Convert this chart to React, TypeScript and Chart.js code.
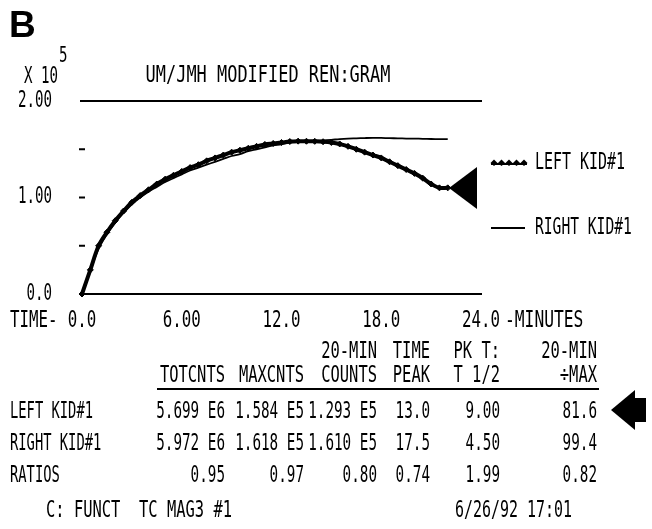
import React, { useEffect, useRef } from "react";
import { Chart, registerables } from "chart.js";

Chart.register(...registerables);

// ---- Data ----
const timeMinutes = [0, 0.5, 1, 1.5, 2, 2.5, 3, 3.5, 4, 4.5, 5, 5.5, 6, 6.5, 7, 7.5, 8, 8.5, 9, 9.5, 10, 10.5, 11, 11.5, 12, 12.5, 13, 13.5, 14, 14.5, 15, 15.5, 16, 16.5, 17, 17.5, 18, 18.5, 19, 19.5, 20, 20.5, 21, 21.5, 22];
const leftKid = [0, 0.25, 0.5, 0.64, 0.76, 0.86, 0.95, 1.02, 1.08, 1.14, 1.19, 1.23, 1.27, 1.31, 1.34, 1.38, 1.41, 1.44, 1.47, 1.49, 1.51, 1.53, 1.55, 1.56, 1.57, 1.58, 1.584, 1.583, 1.582, 1.578, 1.57, 1.555, 1.53, 1.5, 1.47, 1.44, 1.41, 1.37, 1.33, 1.29, 1.25, 1.2, 1.14, 1.1, 1.1];
const rightKid = [0, 0.24, 0.47, 0.62, 0.74, 0.84, 0.93, 1.0, 1.06, 1.11, 1.16, 1.2, 1.24, 1.28, 1.31, 1.34, 1.37, 1.4, 1.43, 1.45, 1.48, 1.5, 1.52, 1.54, 1.55, 1.57, 1.58, 1.585, 1.588, 1.592, 1.598, 1.605, 1.61, 1.613, 1.616, 1.618, 1.617, 1.615, 1.613, 1.611, 1.61, 1.608, 1.606, 1.605, 1.604];

const xTickValues = [0, 6, 12, 18, 24];
const xTickLabels = ["0.0", "6.00", "12.0", "18.0", "24.0"];
const yLabelValues = [0, 1, 2];
const yLabelTexts = ["0.0", "1.00", "2.00"];
const yDashValues = [0.5, 1, 1.5];

const seriesNames = ["LEFT KID#1", "RIGHT KID#1"];
const headerRow1 = ["", "", "20-MIN", "TIME", "PK T:", "20-MIN"];
const headerRow2 = ["TOTCNTS", "MAXCNTS", "COUNTS", "PEAK", "T 1/2", "÷MAX"];
const rowLabels = ["LEFT KID#1", "RIGHT KID#1", "RATIOS"];
const leftRow = ["5.699 E6", "1.584 E5", "1.293 E5", "13.0", "9.00", "81.6"];
const rightRow = ["5.972 E6", "1.618 E5", "1.610 E5", "17.5", "4.50", "99.4"];
const ratioRow = ["0.95", "0.97", "0.80", "0.74", "1.99", "0.82"];

const FONT = '"DejaVu Sans Mono", monospace';

function txt(
  ctx: CanvasRenderingContext2D,
  s: string,
  x: number,
  y: number,
  align: CanvasTextAlign = "left",
  cw = 8.3,
  size = 23
) {
  ctx.save();
  ctx.font = `${size}px ${FONT}`;
  const adv = ctx.measureText("M").width;
  const sx = cw / adv;
  ctx.translate(x, y);
  ctx.scale(sx, 1);
  ctx.textAlign = align;
  ctx.textBaseline = "middle";
  ctx.fillStyle = "#000";
  ctx.fillText(s, 0, 0);
  ctx.restore();
}

function arrow(ctx: CanvasRenderingContext2D, tipX: number, tipY: number, len: number, half: number) {
  ctx.save();
  ctx.fillStyle = "#000";
  ctx.beginPath();
  ctx.moveTo(tipX, tipY);
  ctx.lineTo(tipX + len, tipY - half);
  ctx.lineTo(tipX + len, tipY + half);
  ctx.closePath();
  ctx.fill();
  ctx.restore();
}

const decor = {
  id: "decor",
  beforeDraw(chart: any) {
    const ctx = chart.ctx as CanvasRenderingContext2D;
    ctx.save();
    ctx.fillStyle = "#fff";
    ctx.fillRect(0, 0, chart.width, chart.height);
    ctx.restore();
  },
  afterDraw(chart: any) {
    const ctx = chart.ctx as CanvasRenderingContext2D;
    const xs = chart.scales.x;
    const ys = chart.scales.y;
    const area = chart.chartArea;

    // Panel letter
    ctx.save();
    ctx.font = 'bold 37px "Liberation Sans", Arial, sans-serif';
    ctx.textBaseline = "alphabetic";
    ctx.fillStyle = "#000";
    ctx.fillText("B", 9, 37);
    ctx.restore();

    // Axis multiplier x10^5
    txt(ctx, "X 10", 24, 77, "left", 8.5);
    txt(ctx, "5", 59, 57, "left", 8.5, 21);

    // Title
    txt(ctx, "UM/JMH MODIFIED REN:GRAM", 268, 76, "center", 10.2);

    // Horizontal lines at top and zero
    ctx.save();
    ctx.strokeStyle = "#000";
    ctx.lineWidth = 2;
    ctx.beginPath();
    ctx.moveTo(area.left - 2, ys.getPixelForValue(2));
    ctx.lineTo(area.right + 1, ys.getPixelForValue(2));
    ctx.moveTo(area.left + 2, ys.getPixelForValue(0));
    ctx.lineTo(area.right + 1, ys.getPixelForValue(0));
    ctx.stroke();
    yDashValues.forEach((v) => {
      const py = ys.getPixelForValue(v);
      ctx.beginPath();
      ctx.moveTo(area.left - 3, py);
      ctx.lineTo(area.left + 3, py);
      ctx.stroke();
    });
    ctx.restore();

    // y labels
    yLabelValues.forEach((v, i) => {
      txt(ctx, yLabelTexts[i], 52, ys.getPixelForValue(v), "right", 8.5);
    });

    // x labels
    const xRowY = ys.getPixelForValue(0) + 27;
    txt(ctx, "TIME-", 10, xRowY, "left", 9.5);
    xTickValues.forEach((v, i) => {
      txt(ctx, xTickLabels[i], xs.getPixelForValue(v), xRowY, "center", 9.5);
    });
    txt(ctx, "-MINUTES", 505, xRowY, "left", 9.8);

    // Legend
    const ly1 = 163;
    const ly2 = 228;
    ctx.save();
    ctx.fillStyle = "#000";
    for (let k = 0; k < 5; k++) {
      const px = 494 + k * 7.5;
      ctx.beginPath();
      ctx.moveTo(px, ly1 - 3.5);
      ctx.lineTo(px + 3.5, ly1);
      ctx.lineTo(px, ly1 + 3);
      ctx.lineTo(px - 3.5, ly1);
      ctx.closePath();
      ctx.fill();
    }
    ctx.lineWidth = 2;
    ctx.strokeStyle = "#000";
    ctx.beginPath();
    ctx.moveTo(491, ly1 + 1);
    ctx.lineTo(527, ly1 + 1);
    ctx.moveTo(491, ly2);
    ctx.lineTo(525, ly2);
    ctx.stroke();
    ctx.restore();
    txt(ctx, seriesNames[0], 535, ly1, "left", 9);
    txt(ctx, seriesNames[1], 535, ly2, "left", 8.8);

    // Arrow on curve
    arrow(ctx, 449, 188, 28, 21);

    // Table
    const rights = [225, 304, 377, 430, 500, 597];
    const h1 = 352, h2 = 376;
    headerRow1.forEach((s, i) => { if (s) txt(ctx, s, rights[i], h1, "right", 9.3); });
    headerRow2.forEach((s, i) => txt(ctx, s, rights[i], h2, "right", 9.3));
    ctx.save();
    ctx.strokeStyle = "#000";
    ctx.lineWidth = 2;
    ctx.beginPath();
    ctx.moveTo(157, 389);
    ctx.lineTo(599, 389);
    ctx.stroke();
    ctx.restore();

    const rowsY = [412, 444, 476];
    const rows = [leftRow, rightRow, ratioRow];
    rows.forEach((r, ri) => {
      txt(ctx, rowLabels[ri], 10, rowsY[ri], "left", 8.3);
      r.forEach((s, i) => txt(ctx, s, rights[i], rowsY[ri], "right", 8.6));
    });
    arrow(ctx, 611, 410, 24, 20);
    ctx.save();
    ctx.fillStyle = "#000";
    ctx.fillRect(633, 398, 13, 24);
    ctx.restore();

    // Footer
    txt(ctx, "C: FUNCT  TC MAG3 #1", 46, 511, "left", 9.3);
    txt(ctx, "6/26/92 17:01", 455, 511, "left", 9);
  },
};

export default function App() {
  const ref = useRef<HTMLCanvasElement>(null);
  useEffect(() => {
    if (!ref.current) return;
    const chart = new Chart(ref.current, {
      type: "line",
      data: {
        datasets: [
          {
            label: seriesNames[0],
            data: timeMinutes.map((t, i) => ({ x: t, y: leftKid[i] })),
            borderColor: "#000",
            backgroundColor: "#000",
            borderWidth: 4,
            pointRadius: 3,
            pointStyle: "rectRot",
            pointBackgroundColor: "#000",
            pointBorderColor: "#000",
            pointBorderWidth: 1,
            tension: 0.35,
            clip: false as any,
          },
          {
            label: seriesNames[1],
            data: timeMinutes.map((t, i) => ({ x: t, y: rightKid[i] })),
            borderColor: "#000",
            borderWidth: 1.8,
            pointRadius: 0,
            tension: 0.35,
            clip: false as any,
          },
        ],
      },
      options: {
        responsive: false,
        animation: false,
        layout: { padding: { left: 82, right: 171, top: 101, bottom: 235 } },
        plugins: { legend: { display: false }, tooltip: { enabled: false }, title: { display: false } },
        scales: {
          x: { type: "linear", min: 0, max: 24, display: false },
          y: { type: "linear", min: 0, max: 2, display: false },
        },
      },
      plugins: [decor],
    });
    return () => chart.destroy();
  }, []);
  return (
    <div style={{ position: "absolute", left: 0, top: 0, width: 652, height: 529, background: "#fff" }}>
      <canvas ref={ref} width={652} height={529} style={{ display: "block" }} />
    </div>
  );
}
